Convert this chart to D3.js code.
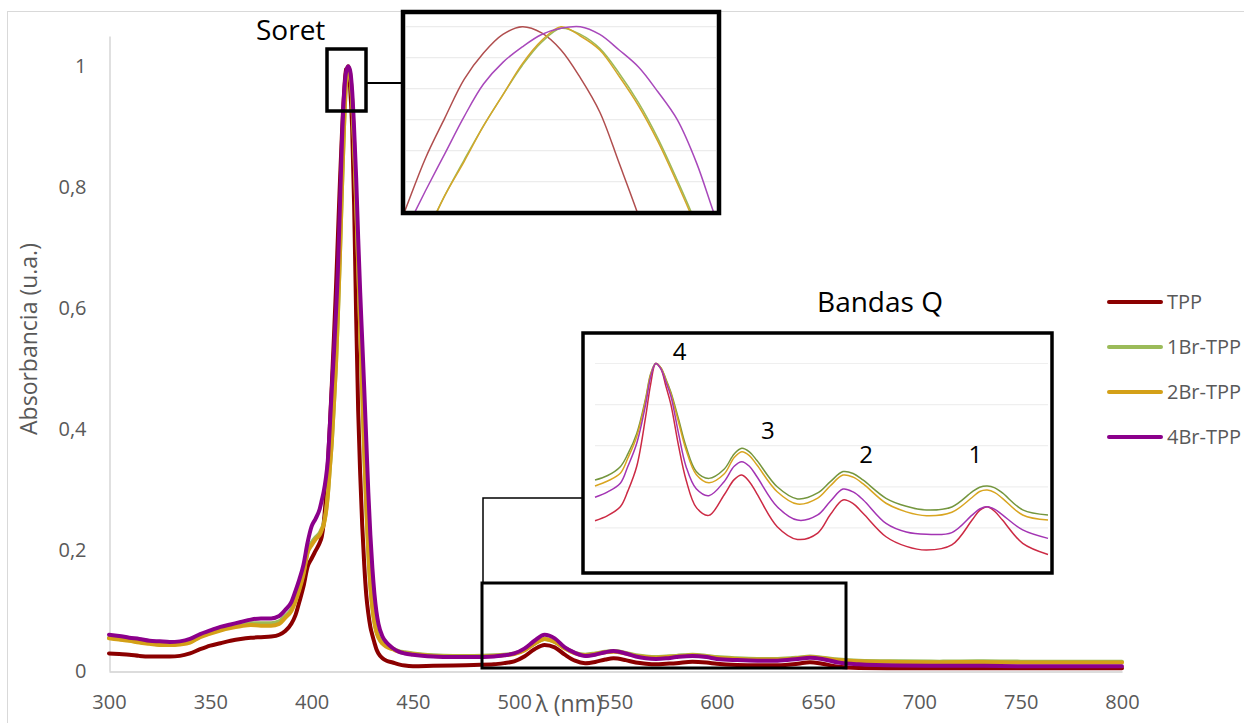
<!DOCTYPE html>
<html>
<head>
<meta charset="utf-8">
<script src="https://cdn.jsdelivr.net/npm/d3@7"></script>
<style>
  body { margin: 0; background: #fff; }
  svg { display: block; }
  text { font-family: "Open Sans", "DejaVu Sans", sans-serif; }
</style>
</head>
<body>
<svg id="chart" width="1244" height="723"></svg>
<script>
// ---- UV-Vis spectra (wavelength in nm, normalised absorbance) ----
const wavelength = [
  300, 305, 310, 315, 320, 325, 330, 335, 340, 345,
  350, 355, 360, 365, 370, 375, 380, 384, 387, 390,
  392, 394, 396, 398, 400, 402, 404, 405, 406, 407,
  408, 409, 410, 411, 412, 413, 414, 415, 416, 417,
  418, 419, 420, 421, 422, 423, 424, 425, 426, 427,
  428, 429, 430, 431, 432, 433, 435, 437, 440, 443,
  446, 450, 460, 470, 480, 490, 495, 500, 505, 510,
  515, 520, 525, 530, 535, 540, 545, 549, 555, 560,
  565, 570, 575, 580, 588, 595, 600, 610, 620, 630,
  640, 646, 652, 660, 670, 690, 710, 730, 750, 770,
  800
];

const absTPP = [
  .029, .028, .027, .025, .024, .024, .024, .025, .029, .036,
  .042, .046, .050, .053, .055, .056, .057, .060, .066, .078,
  .092, .115, .140, .172, .186, .199, .212, .222, .245, .285,
  .340, .405, .475, .550, .630, .720, .810, .890, .955, .995,
  .997, .965, .900, .770, .585, .430, .325, .240, .175, .125,
  .095, .073, .059, .047, .036, .029, .021, .017, .014, .011,
  .009, .008, .0085, .009, .010, .011, .013, .016, .024, .036,
  .043, .039, .027, .017, .013, .015, .019, .021, .018, .014,
  .012, .011, .012, .013, .0155, .014, .012, .010, .0095, .0095,
  .012, .0145, .012, .007, .005, .0045, .0045, .0045, .0045, .0045,
  .0045
];

const abs1Br = [
  .055, .053, .051, .048, .046, .044, .044, .045, .048, .057,
  .063, .069, .073, .076, .079, .079, .079, .082, .091, .102,
  .118, .138, .163, .197, .212, .221, .228, .235, .244, .262,
  .292, .336, .381, .441, .505, .590, .690, .800, .900, .972,
  1.000, .988, .946, .872, .777, .672, .567, .462, .362, .272,
  .197, .142, .106, .082, .066, .057, .047, .042, .037, .033,
  .031, .029, .026, .025, .025, .026, .027, .029, .035, .045,
  .053, .048, .038, .030, .027, .029, .032, .033, .030, .026,
  .024, .023, .024, .025, .027, .025, .023, .021, .020, .020,
  .022, .024, .022, .019, .017, .016, .0155, .016, .0155, .0155,
  .0155
];

const abs2Br = [
  .054, .052, .050, .047, .045, .043, .043, .044, .047, .056,
  .062, .067, .071, .074, .076, .075, .075, .078, .088, .099,
  .115, .135, .160, .195, .208, .218, .225, .233, .242, .260,
  .290, .335, .380, .440, .505, .590, .690, .800, .900, .972,
  1.000, .988, .945, .870, .775, .670, .565, .460, .360, .270,
  .195, .140, .104, .080, .064, .055, .045, .040, .036, .032,
  .030, .028, .025, .024, .024, .025, .026, .028, .034, .045,
  .053, .048, .037, .029, .026, .028, .031, .032, .029, .025,
  .023, .022, .023, .024, .026, .024, .022, .020, .019, .019,
  .021, .023, .021, .018, .016, .015, .0145, .015, .014, .014,
  .014
];

const abs4Br = [
  .060, .058, .055, .053, .050, .049, .048, .049, .053, .061,
  .067, .073, .077, .081, .085, .087, .087, .091, .101, .114,
  .132, .152, .176, .212, .239, .252, .268, .282, .297, .318,
  .348, .405, .468, .525, .590, .665, .772, .878, .952, .990,
  1.000, .993, .960, .895, .815, .715, .625, .545, .465, .380,
  .295, .225, .170, .128, .098, .078, .057, .047, .038, .032,
  .029, .027, .024, .023, .023, .024, .026, .029, .037, .050,
  .060, .054, .039, .030, .025, .027, .031, .033, .029, .024,
  .021, .020, .021, .023, .025, .023, .020, .018, .017, .017,
  .020, .022, .020, .014, .011, .009, .0085, .0085, .008, .008,
  .008
];

const seriesNames = ["TPP", "1Br-TPP", "2Br-TPP", "4Br-TPP"];
const xTicks = [300, 350, 400, 450, 500, 550, 600, 650, 700, 750, 800];
const yTicks = [0, 0.2, 0.4, 0.6, 0.8, 1];

// ---- Soret band, magnified top of the peak ----
const soretNm = [415.75, 416, 416.25, 416.5, 416.75, 417, 417.25, 417.5, 417.75, 418,
                 418.25, 418.5, 418.75, 419, 419.25, 419.5, 419.75, 420, 420.25];
const soretTPP = [.9850, .9883, .9915, .9941, .9966, .9983, .9995, 1.0000, .9996, .9985,
                  .9967, .9945, .9912, .9878, .9840, .9800, .9760, .9710, .9660];
const soret1Br = [.9806, .9836, .9865, .9891, .9914, .9936, .9956, .9975, .9990, .9999,
                  .9995, .9986, .9970, .9951, .9928, .9901, .9872, .9838, .9808];
const soret2Br = [.9805, .9835, .9864, .9891, .9913, .9936, .9956, .9976, .9991, 1.0000,
                  .9994, .9985, .9968, .9949, .9926, .9899, .9870, .9836, .9805];
const soret4Br = [.9845, .9869, .9894, .9918, .9942, .9963, .9977, .9987, .9995, .9999,
                  1.0000, .9995, .9985, .9974, .9958, .9940, .9912, .9876, .9845];
const soretGrid = [0.990, 0.992, 0.994, 0.996, 0.998, 1.000];

// ---- Q bands, each spectrum normalised to band IV ----
const qNm = [491, 496, 501, 504, 507.5, 511, 513, 515, 517, 519,
             521, 524, 527, 531, 536, 542, 546, 549, 552, 555,
             563, 571, 579, 584, 589, 593, 597, 606, 614, 622,
             632, 640, 643, 646, 649, 652, 660, 670];
const qTPP = [.235, .260, .303, .380, .500, .740, .900, 1.000, .975, .890,
              .800, .600, .433, .300, .261, .360, .435, .457, .425, .366,
              .206, .144, .175, .265, .336, .318, .270, .157, .110, .092,
              .117, .238, .285, .303, .280, .238, .125, .071];
const q1Br = [.433, .455, .498, .560, .660, .830, .950, 1.000, .980, .925,
              .860, .730, .595, .475, .441, .485, .560, .587, .570, .528,
              .400, .341, .370, .425, .474, .465, .432, .344, .305, .287,
              .302, .375, .398, .404, .395, .370, .288, .263];
const q2Br = [.404, .428, .466, .540, .645, .820, .945, 1.000, .980, .920,
              .852, .715, .579, .460, .420, .462, .543, .571, .552, .506,
              .376, .316, .345, .405, .457, .447, .414, .320, .278, .259,
              .276, .348, .377, .384, .372, .344, .263, .238];
const q4Br = [.349, .375, .417, .500, .612, .800, .935, 1.000, .975, .910,
              .840, .660, .498, .390, .357, .425, .500, .522, .500, .449,
              .303, .238, .263, .330, .389, .375, .336, .222, .180, .169,
              .177, .262, .292, .303, .290, .263, .190, .149];
const qGrid = [0.2, 0.4, 0.6, 0.8, 1.0];
const qBandLabels = ["4", "3", "2", "1"];
const qBandNm = [515, 549, 589, 646];

// ---- styling ----
const mainColors = ["#8b0000", "#9bbb59", "#d4a017", "#8b008b"];
const soretColors = ["#b04e4e", "#9bbb59", "#d4a62a", "#a848bb"];
const qColors = ["#cc2a44", "#74963e", "#d9a520", "#a334b3"];
const textGray = "#595959";

const svg = d3.select("#chart");
svg.append("rect").attr("width", 1244).attr("height", 723).attr("fill", "#fff");
svg.append("rect")
  .attr("x", 7.5).attr("y", 11.5).attr("width", 1260).attr("height", 730)
  .attr("fill", "none").attr("stroke", "#d9d9d9").attr("stroke-width", 1);

// main scales
const x = d3.scaleLinear().domain([300, 800]).range([109, 1122]);
const y = d3.scaleLinear().domain([0, 1.05]).range([671, 36]);

const comma = d3.formatLocale({ decimal: ",", thousands: ".", grouping: [3], currency: ["", ""] }).format(".1~f");

const yAxis = svg.append("g").attr("transform", "translate(109.5,0)")
  .call(d3.axisLeft(y).tickValues(yTicks).tickFormat(comma).tickSize(0).tickPadding(23));
const xAxis = svg.append("g").attr("transform", "translate(0,671.5)")
  .call(d3.axisBottom(x).tickValues(xTicks).tickFormat(d3.format("d")).tickSize(0).tickPadding(23));
[yAxis, xAxis].forEach(g => {
  g.select(".domain").attr("stroke", "#d0d0d0").attr("stroke-width", 1.3);
  g.selectAll("text").attr("fill", textGray).style("font-size", "20px")
    .style("font-family", "'Open Sans', sans-serif");
});

// axis titles
svg.append("text")
  .attr("transform", "translate(37,339) rotate(-90)")
  .attr("text-anchor", "middle").attr("fill", textGray).style("font-size", "23px")
  .text("Absorbancia (u.a.)");
svg.append("text")
  .attr("x", 569).attr("y", 712)
  .attr("text-anchor", "middle").attr("fill", textGray).style("font-size", "23px")
  .text("λ (nm)");

// spectra
const mainSeries = [absTPP, abs1Br, abs2Br, abs4Br];
const line = d3.line()
  .x((d, i) => x(wavelength[i]))
  .y(d => y(d))
  .curve(d3.curveMonotoneX);
svg.append("g").selectAll("path").data(mainSeries).join("path")
  .attr("d", line)
  .attr("fill", "none")
  .attr("stroke", (d, i) => mainColors[i])
  .attr("stroke-width", 4)
  .attr("stroke-linejoin", "round")
  .attr("stroke-linecap", "round");

// legend
const legend = svg.append("g");
seriesNames.forEach((name, i) => {
  const cy = 302 + i * 45;
  legend.append("line")
    .attr("x1", 1109).attr("x2", 1161).attr("y1", cy).attr("y2", cy)
    .attr("stroke", mainColors[i]).attr("stroke-width", 4).attr("stroke-linecap", "round");
  legend.append("text")
    .attr("x", 1167).attr("y", cy + 7)
    .attr("fill", textGray).style("font-size", "20px")
    .text(name);
});

// ---- Soret magnification ----
const sx = d3.scaleLinear().domain([416, 420]).range([406, 716]);
const sy = d3.scaleLinear().domain([0.99, 1.0]).range([181.7, 26.7]);
svg.append("rect").attr("x", 403).attr("y", 12).attr("width", 316).attr("height", 201).attr("fill", "#fff");
svg.append("clipPath").attr("id", "soretClip")
  .append("rect").attr("x", 405).attr("y", 14).attr("width", 312).attr("height", 197);
const soretG = svg.append("g").attr("clip-path", "url(#soretClip)");
soretG.selectAll("line.grid").data(soretGrid).join("line")
  .attr("x1", 406).attr("x2", 716)
  .attr("y1", d => sy(d)).attr("y2", d => sy(d))
  .attr("stroke", "#ececec").attr("stroke-width", 1.2);
const soretLine = d3.line()
  .x((d, i) => sx(soretNm[i]))
  .y(d => sy(d))
  .curve(d3.curveCatmullRom.alpha(0.5));
soretG.selectAll("path").data([soretTPP, soret1Br, soret2Br, soret4Br]).join("path")
  .attr("d", soretLine).attr("fill", "none")
  .attr("stroke", (d, i) => soretColors[i]).attr("stroke-width", 1.5);
svg.append("rect").attr("x", 403).attr("y", 12).attr("width", 316).attr("height", 201)
  .attr("fill", "none").attr("stroke", "#000").attr("stroke-width", 4.5);

// marker box on the Soret peak and its connector
svg.append("rect").attr("x", 327).attr("y", 49).attr("width", 39).attr("height", 62)
  .attr("fill", "none").attr("stroke", "#000").attr("stroke-width", 3.5);
svg.append("line").attr("x1", 366).attr("x2", 403).attr("y1", 83).attr("y2", 83)
  .attr("stroke", "#000").attr("stroke-width", 2);
svg.append("text").attr("x", 256).attr("y", 40).attr("fill", "#000")
  .style("font-size", "28px").text("Soret");

// ---- Q band magnification ----
const qx = d3.scaleLinear().domain([491, 670]).range([595, 1048]);
const qy = d3.scaleLinear().domain([0, 1]).range([569, 363.5]);
svg.append("rect").attr("x", 583).attr("y", 333).attr("width", 469).attr("height", 240).attr("fill", "#fff");
svg.append("clipPath").attr("id", "qClip")
  .append("rect").attr("x", 585).attr("y", 335).attr("width", 465).attr("height", 236);
const qG = svg.append("g").attr("clip-path", "url(#qClip)");
qG.selectAll("line.grid").data(qGrid).join("line")
  .attr("x1", 595).attr("x2", 1048)
  .attr("y1", d => qy(d)).attr("y2", d => qy(d))
  .attr("stroke", "#efefef").attr("stroke-width", 1.2);
const qLine = d3.line()
  .x((d, i) => qx(qNm[i]))
  .y(d => qy(d))
  .curve(d3.curveCatmullRom.alpha(0.5));
qG.selectAll("path").data([qTPP, q1Br, q2Br, q4Br]).join("path")
  .attr("d", qLine).attr("fill", "none")
  .attr("stroke", (d, i) => qColors[i]).attr("stroke-width", 1.5);
svg.append("rect").attr("x", 583).attr("y", 333).attr("width", 469).attr("height", 240)
  .attr("fill", "none").attr("stroke", "#000").attr("stroke-width", 3.5);

// band numbers placed relative to the top curve at each Q band maximum
const qLabelOffset = [[24, -4], [26, -9], [23, -9], [-12, -23]];
qBandNm.forEach((w, i) => {
  const peakIdx = qNm.indexOf(w);
  const top = d3.max([qTPP[peakIdx], q1Br[peakIdx], q2Br[peakIdx], q4Br[peakIdx]]);
  svg.append("text")
    .attr("x", qx(w) + qLabelOffset[i][0])
    .attr("y", qy(top) + qLabelOffset[i][1])
    .attr("text-anchor", "middle").attr("fill", "#000")
    .style("font-size", "24px").text(qBandLabels[i]);
});

// marker box over the Q region and its connector
svg.append("rect").attr("x", 482).attr("y", 583).attr("width", 364).attr("height", 85)
  .attr("fill", "none").attr("stroke", "#000").attr("stroke-width", 3);
svg.append("polyline").attr("points", "483,583 483,498 583,498")
  .attr("fill", "none").attr("stroke", "#000").attr("stroke-width", 1.5);
svg.append("text").attr("x", 880).attr("y", 312).attr("text-anchor", "middle").attr("fill", "#000")
  .style("font-size", "28px").text("Bandas Q");
</script>
</body>
</html>
